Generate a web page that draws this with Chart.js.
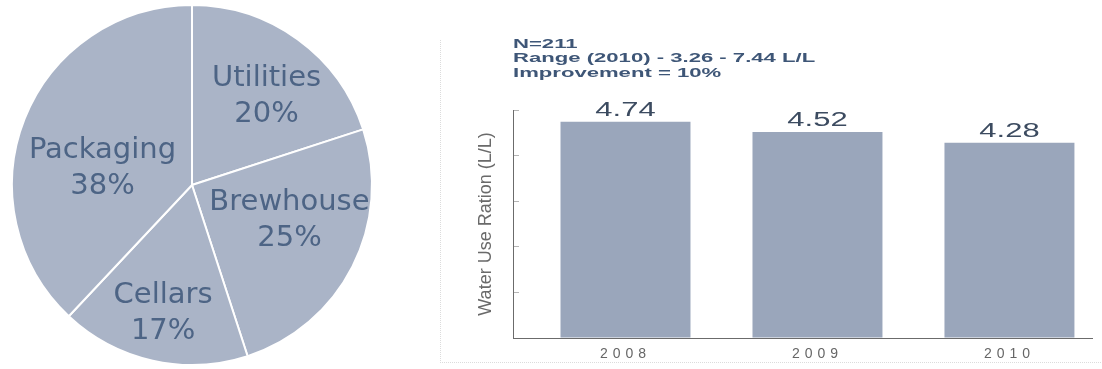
<!DOCTYPE html>
<html>
<head>
<meta charset="utf-8">
<script src="https://cdn.jsdelivr.net/npm/chart.js@4.4.1/dist/chart.umd.min.js"></script>
<style>
  html, body { margin: 0; padding: 0; background: #ffffff; width: 1102px; height: 369px; overflow: hidden; }
  #pieBox { position: absolute; left: 0; top: 4px; width: 384px; height: 362px; }
  #barBox { position: absolute; left: 430px; top: 0; width: 672px; height: 369px; }
  #frame { position: absolute; left: 440px; top: 40px; width: 662px; height: 322px;
           border-left: 1px dotted #dcdcdc; border-bottom: 1px dotted #dcdcdc; }
</style>
</head>
<body>
<div id="frame"></div>
<div id="pieBox"><canvas id="pie"></canvas></div>
<div id="barBox"><canvas id="bar"></canvas></div>
<script>
// ---- data ----
const pieCategories = ['Utilities', 'Brewhouse', 'Cellars', 'Packaging'];
const pieValues = [20, 25, 17, 38];
const years = ['2008', '2009', '2010'];
const ratioValues = [4.74, 4.52, 4.28];
const yTicks = [0, 1, 2, 3, 4, 5];
const notes = ['N=211', 'Range (2010) - 3.26 - 7.44 L/L', 'Improvement = 10%'];
const yTitle = 'Water Use Ration (L/L)';

// ---- pie ----
const labelPlace = [ {f: 0.643, d: 4.1}, {f: 0.577, d: -6.8}, {f: 0.73, d: 0.1}, {f: 0.506, d: -10.9} ];
const pieLabelPlugin = {
  id: 'pieLabels',
  afterDatasetsDraw(chart) {
    const ctx = chart.ctx;
    const meta = chart.getDatasetMeta(0);
    meta.data.forEach((arc, i) => {
      const p = arc.getProps(['x', 'y', 'startAngle', 'endAngle', 'outerRadius'], true);
      const mid = (p.startAngle + p.endAngle) / 2 + labelPlace[i].d * Math.PI / 180;
      const r = p.outerRadius * labelPlace[i].f;
      const cx = p.x + Math.cos(mid) * r;
      const cy = p.y + Math.sin(mid) * r;
      ctx.save();
      ctx.fillStyle = '#4d6485';
      ctx.font = '29px "DejaVu Sans"';
      ctx.textAlign = 'center';
      ctx.textBaseline = 'middle';
      ctx.fillText(pieCategories[i], cx, cy - 18);
      ctx.fillText(pieValues[i] + '%', cx, cy + 18);
      ctx.restore();
    });
  }
};
new Chart(document.getElementById('pie'), {
  type: 'pie',
  data: {
    labels: pieCategories,
    datasets: [{ data: pieValues, backgroundColor: '#aab4c7', borderColor: '#ffffff', borderWidth: 2 }]
  },
  options: {
    responsive: true, maintainAspectRatio: false, animation: false,
    layout: { padding: 0 },
    plugins: { legend: { display: false }, tooltip: { enabled: false } }
  },
  plugins: [pieLabelPlugin]
});

// ---- bar ----
const barTextPlugin = {
  id: 'barText',
  afterUpdate(chart) {
    const s = chart.scales.x;
    if (s && !s._spaced) {
      const orig = s.drawLabels.bind(s);
      s.drawLabels = function (area) {
        const c = this.ctx;
        const prev = c.letterSpacing;
        c.letterSpacing = '5px';
        orig(area);
        c.letterSpacing = prev || '0px';
      };
      s._spaced = true;
    }
  },
  afterDatasetsDraw(chart) {
    const ctx = chart.ctx;
    const meta = chart.getDatasetMeta(0);
    meta.data.forEach((bar, i) => {
      ctx.save();
      ctx.translate(bar.x, bar.y - 6);
      ctx.scale(1.55, 1);
      ctx.fillStyle = '#3c4b60';
      ctx.font = '20px "Liberation Sans"';
      ctx.textAlign = 'center';
      ctx.textBaseline = 'alphabetic';
      ctx.fillText(ratioValues[i].toFixed(2), 0, 0);
      ctx.restore();
    });
    const left = chart.chartArea.left;
    ctx.save();
    ctx.fillStyle = '#3e5677';
    ctx.font = 'bold 13px "Liberation Sans"';
    ctx.textAlign = 'left';
    ctx.textBaseline = 'middle';
    notes.forEach((t, k) => {
      ctx.save();
      ctx.translate(left, 44 + k * 14.5);
      ctx.scale(1.7, 1);
      ctx.fillText(t, 0, 0);
      ctx.restore();
    });
    ctx.restore();
  }
};
new Chart(document.getElementById('bar'), {
  type: 'bar',
  data: {
    datasets: [{
      data: ratioValues.map((v, i) => ({ x: i, y: v })),
      backgroundColor: '#9aa6bb',
      borderWidth: 0,
      barPercentage: 0.677,
      categoryPercentage: 1
    }]
  },
  options: {
    responsive: true, maintainAspectRatio: false, animation: false,
    layout: { padding: { top: 110, right: 10, left: 0, bottom: 0 } },
    plugins: { legend: { display: false }, tooltip: { enabled: false } },
    scales: {
      x: {
        type: 'linear',
        min: -0.586, max: 2.43,
        offset: false,
        grid: { display: true, drawOnChartArea: false, drawTicks: false },
        border: { display: true, color: '#6b6b6b', width: 1 },
        ticks: {
          stepSize: 1, includeBounds: false, autoSkip: false, maxRotation: 0,
          padding: 8, color: '#666666',
          font: { family: '"Liberation Sans"', size: 14 },
          callback: (v) => (Number.isInteger(v) && years[v] !== undefined) ? years[v] : ''
        },
        afterFit: (s) => { s.height = 31; }
      },
      y: {
        min: yTicks[0], max: yTicks[yTicks.length - 1],
        afterBuildTicks: (s) => { s.ticks = yTicks.map(v => ({ value: v })); },
        grid: { display: true, drawOnChartArea: false, drawTicks: true, tickLength: -6, color: '#b5b5b5' },
        border: { display: true, color: '#6b6b6b', width: 1 },
        ticks: { display: false },
        title: {
          display: true, text: yTitle, color: '#6a6a6a',
          font: { family: '"Liberation Sans"', size: 18 },
          padding: { top: 45, bottom: 0 }
        },
        afterFit: (s) => { s.width = 83; }
      }
    }
  },
  plugins: [barTextPlugin]
});
</script>
</body>
</html>
